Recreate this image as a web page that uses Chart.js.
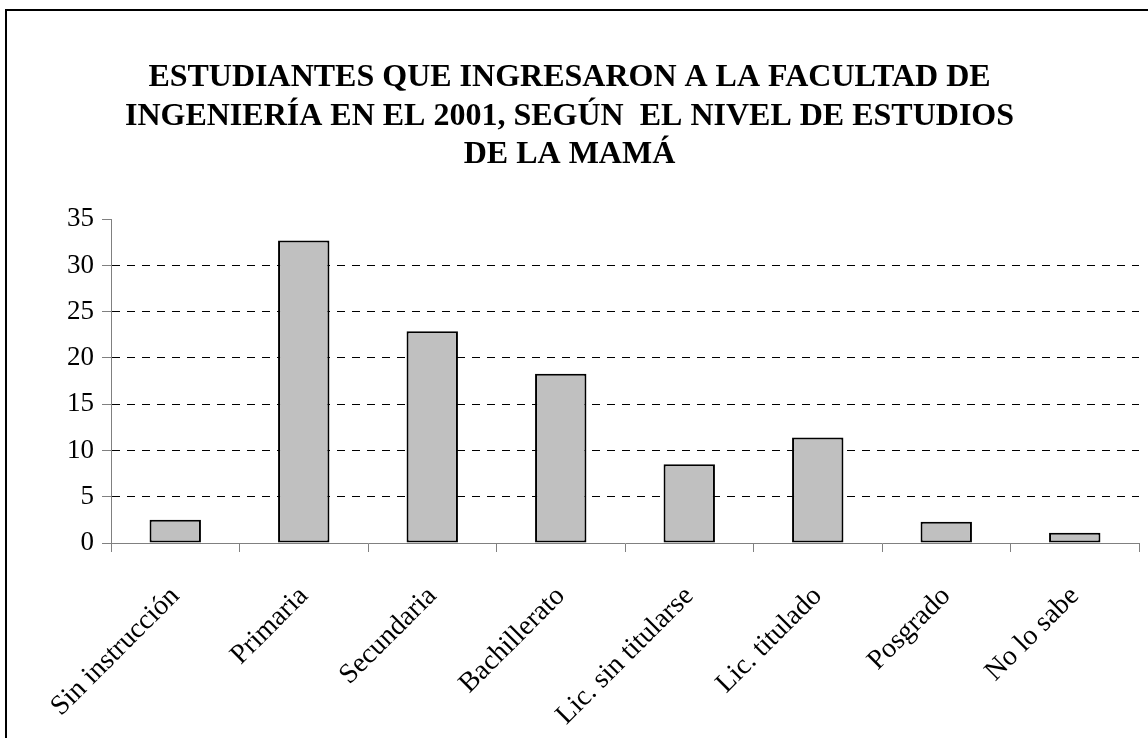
<!DOCTYPE html>
<html>
<head>
<meta charset="utf-8">
<script src="https://cdn.jsdelivr.net/npm/chart.js@4.4.0/dist/chart.umd.min.js"></script>
<style>
  html, body { margin: 0; padding: 0; background: #fff; }
  #wrap { width: 1148px; height: 738px; position: relative; }
</style>
</head>
<body>
<div id="wrap"><canvas id="nivelChart"></canvas></div>
<script>
// datos
const categorias = ["Sin instrucción", "Primaria", "Secundaria", "Bachillerato", "Lic. sin titularse", "Lic. titulado", "Posgrado", "No lo sabe"];
const porcentajes = [2.5, 32.7, 22.9, 18.3, 8.5, 11.4, 2.3, 1.1];
const yTicks = [0, 5, 10, 15, 20, 25, 30, 35];
const tituloLineas = [
  "ESTUDIANTES QUE INGRESARON A LA FACULTAD DE",
  "INGENIERÍA EN EL 2001, SEGÚN  EL NIVEL DE ESTUDIOS",
  "DE LA MAMÁ"
];

// fondo blanco y marco del grafico
const marco = {
  id: "marco",
  beforeDraw(chart) {
    const c = chart.ctx;
    c.save();
    c.fillStyle = "#fff";
    c.fillRect(0, 0, chart.width, chart.height);
    c.strokeStyle = "#000";
    c.lineWidth = 2;
    c.beginPath();
    c.moveTo(6, chart.height);
    c.lineTo(6, 10);
    c.lineTo(chart.width, 10);
    c.stroke();
    c.restore();
  }
};

const ctx = document.getElementById("nivelChart").getContext("2d");
new Chart(ctx, {
  type: "bar",
  data: {
    labels: categorias,
    datasets: [{
      data: porcentajes,
      backgroundColor: "#c0c0c0",
      borderColor: "#000",
      borderWidth: 2,
      borderSkipped: false,
      barPercentage: 0.4,
      categoryPercentage: 1
    }]
  },
  options: {
    responsive: true,
    maintainAspectRatio: false,
    animation: false,
    layout: { padding: { left: 0, right: 9, top: 0, bottom: 0 } },
    plugins: {
      legend: { display: false },
      tooltip: { enabled: false },
      title: {
        display: true,
        text: tituloLineas,
        color: "#000",
        font: { family: "Liberation Serif", size: 32, weight: "bold", lineHeight: 1.2 },
        padding: { top: 59, bottom: 45 }
      }
    },
    scales: {
      x: {
        grid: {
          display: true,
          drawOnChartArea: false,
          drawTicks: true,
          tickLength: 9,
          tickColor: "#808080",
          offset: true
        },
        border: { color: "#808080", width: 1 },
        ticks: {
          color: "#000",
          autoSkip: false,
          minRotation: 45,
          maxRotation: 45,
          padding: 28,
          font: { family: "Liberation Serif", size: 28 }
        },
        afterFit: (s) => { s.height = 195; }
      },
      y: {
        min: 0,
        max: 35,
        afterBuildTicks: (s) => { s.ticks = yTicks.map((v) => ({ value: v })); },
        grid: {
          color: (c) => (c.tick && (c.tick.value === 0 || c.tick.value === 35)) ? "rgba(0,0,0,0)" : "#000",
          lineWidth: 1,
          tickColor: "#808080",
          tickLength: 9
        },
        border: { color: "#808080", width: 1, dash: [8, 7] },
        ticks: {
          color: "#000",
          padding: 8,
          font: { family: "Liberation Serif", size: 27 }
        },
        afterFit: (s) => { s.width = 111; }
      }
    }
  },
  plugins: [marco]
});
</script>
</body>
</html>
